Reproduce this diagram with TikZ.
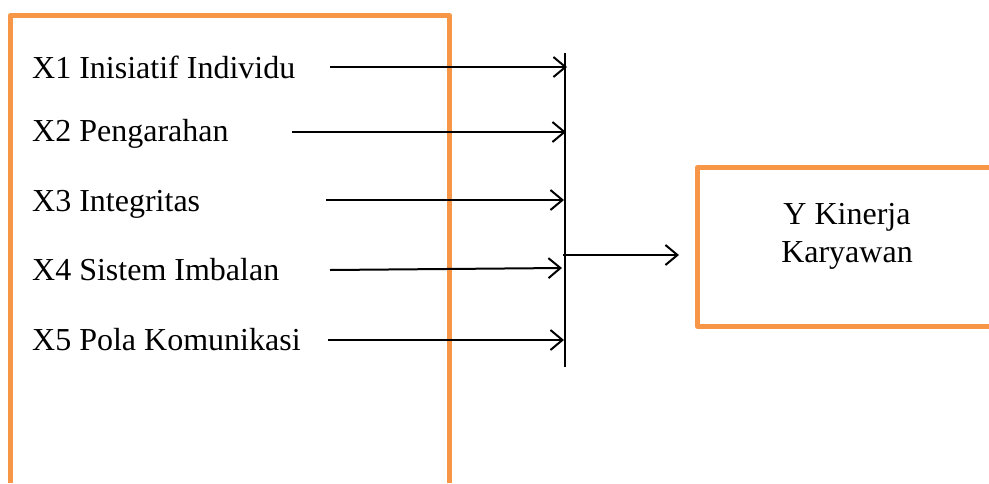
\documentclass[tikz,border=0pt]{standalone}
\usepackage{fontspec}
\setmainfont{Liberation Serif}
\usetikzlibrary{arrows.meta}
\definecolor{boxorange}{RGB}{247,150,70}
\begin{document}
\begin{tikzpicture}[x=1pt,y=-1pt,
  frame/.style={draw=boxorange,line width=5pt,line join=round},
  lbl/.style={anchor=west,inner sep=0pt,font=\fontsize{32}{37}\selectfont},
  feed/.style={line width=2pt,-{Straight Barb[length=12pt,width=20pt,line width=2pt]}}]
  \useasboundingbox (0,0) rectangle (989,483);

  % left frame, open at the bottom
  \draw[frame] (10.5,483) -- (10.5,15.5) -- (449.5,15.5) -- (449.5,483);
  % right frame, open at the right
  \draw[frame] (989,167.5) -- (697.5,167.5) -- (697.5,326.5) -- (989,326.5);

  % variable labels
  \node[lbl] (x1) at (32,67) {X1 Inisiatif Individu};
  \node[lbl] (x2) at (32,134) {X2 Pengarahan};
  \node[lbl] (x3) at (32,204) {X3 Integritas};
  \node[lbl] (x4) at (32,270) {X4 Sistem Imbalan};
  \node[lbl] (x5) at (32,340) {X5 Pola Komunikasi};

  % collecting bar
  \coordinate (bt) at (565,53);
  \coordinate (bb) at (565,367);
  \draw[line width=1.6pt] (bt) -- (bb);

  % arrow start and end points
  \coordinate (s1) at (330,67);  \coordinate (e1) at (567,67);
  \coordinate (s2) at (292,132); \coordinate (e2) at (566,132);
  \coordinate (s3) at (326,200); \coordinate (e3) at (564,200);
  \coordinate (s4) at (330,270); \coordinate (e4) at (562,268);
  \coordinate (s5) at (328,340); \coordinate (e5) at (564,340);
  \draw[feed] (s1) -- (e1);
  \draw[feed] (s2) -- (e2);
  \draw[feed] (s3) -- (e3);
  \draw[feed] (s4) -- (e4);
  \draw[feed] (s5) -- (e5);

  % output arrow to the result box
  \coordinate (o1) at (563,255);
  \coordinate (o2) at (679,255);
  \draw[feed] (o1) -- (o2);

  \node[align=center,inner sep=0pt,font=\fontsize{32}{38}\selectfont] (y) at (847,236) {Y Kinerja\\Karyawan};
\end{tikzpicture}
\end{document}
